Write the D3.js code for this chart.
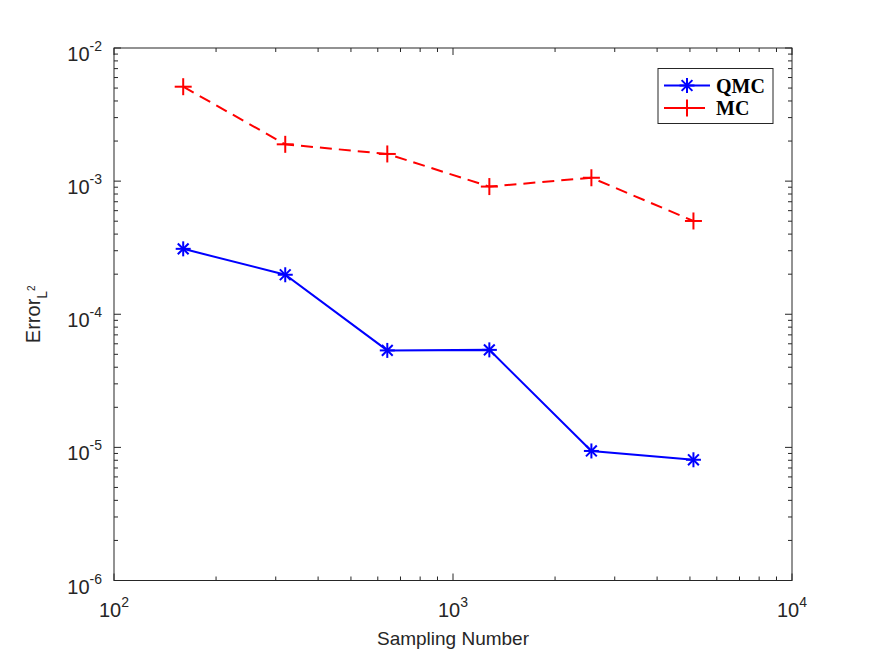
<!DOCTYPE html>
<html>
<head>
<meta charset="utf-8">
<script src="https://cdn.jsdelivr.net/npm/d3@7"></script>
<style>
  body { margin: 0; background: #fff; }
  text { font-family: "Liberation Sans", Arial, Helvetica, sans-serif; }
</style>
</head>
<body>
<script>
// Data
const samplingNumbers = [160, 320, 640, 1280, 2560, 5120];
const qmcError = [3.1e-4, 1.98e-4, 5.35e-5, 5.4e-5, 9.4e-6, 8.07e-6];
const mcError = [5.12e-3, 1.89e-3, 1.6e-3, 9.1e-4, 1.06e-3, 5.02e-4];
const xTickExps = [2, 3, 4];
const yTickExps = [-6, -5, -4, -3, -2];

const W = 875, H = 657;
const margin = {top: 48, right: 83, bottom: 76.5, left: 114};
const width = W - margin.left - margin.right;
const height = H - margin.top - margin.bottom;
const axisColor = "#262626";

const svg = d3.select("body").append("svg")
    .attr("width", W)
    .attr("height", H);

const g = svg.append("g")
    .attr("transform", "translate(" + margin.left + "," + margin.top + ")");

const x = d3.scaleLog().domain([1e2, 1e4]).range([0, width]);
const y = d3.scaleLog().domain([1e-6, 1e-2]).range([height, 0]);

// minor ticks: 2..9 in each decade
function minorTicks(lo, hi) {
    let out = [];
    for (let e = lo; e < hi; e++) {
        for (let k = 2; k <= 9; k++) out.push(k * Math.pow(10, e));
    }
    return out;
}
const xMinor = minorTicks(2, 4);
const yMinor = minorTicks(-6, -2);

// ticks (inward, on all four sides)
const majorLen = 7, minorLen = 4;
const ticks = g.append("g").attr("stroke", axisColor).attr("stroke-width", 1);

xTickExps.map(e => Math.pow(10, e)).forEach(v => {
    ticks.append("line").attr("x1", x(v)).attr("x2", x(v)).attr("y1", height).attr("y2", height - majorLen);
    ticks.append("line").attr("x1", x(v)).attr("x2", x(v)).attr("y1", 0).attr("y2", majorLen);
});
xMinor.forEach(v => {
    ticks.append("line").attr("x1", x(v)).attr("x2", x(v)).attr("y1", height).attr("y2", height - minorLen);
    ticks.append("line").attr("x1", x(v)).attr("x2", x(v)).attr("y1", 0).attr("y2", minorLen);
});
yTickExps.map(e => Math.pow(10, e)).forEach(v => {
    ticks.append("line").attr("y1", y(v)).attr("y2", y(v)).attr("x1", 0).attr("x2", majorLen);
    ticks.append("line").attr("y1", y(v)).attr("y2", y(v)).attr("x1", width).attr("x2", width - majorLen);
});
yMinor.forEach(v => {
    ticks.append("line").attr("y1", y(v)).attr("y2", y(v)).attr("x1", 0).attr("x2", minorLen);
    ticks.append("line").attr("y1", y(v)).attr("y2", y(v)).attr("x1", width).attr("x2", width - minorLen);
});

// box
g.append("rect")
    .attr("width", width)
    .attr("height", height)
    .attr("fill", "none")
    .attr("stroke", axisColor)
    .attr("stroke-width", 1);

// tick labels
const tickFont = 20, supFont = 14;
xTickExps.forEach(e => {
    const t = g.append("text")
        .attr("x", x(Math.pow(10, e)))
        .attr("y", height + 36)
        .attr("text-anchor", "middle")
        .attr("fill", axisColor)
        .style("font-size", tickFont + "px");
    t.append("tspan").text("10");
    t.append("tspan").attr("dy", -10).style("font-size", supFont + "px").text(String(e));
});
yTickExps.forEach(e => {
    const t = g.append("text")
        .attr("x", -12)
        .attr("y", y(Math.pow(10, e)) + 13)
        .attr("text-anchor", "end")
        .attr("fill", axisColor)
        .style("font-size", tickFont + "px");
    t.append("tspan").text("10");
    t.append("tspan").attr("dy", -10).style("font-size", supFont + "px").text(String(e));
});

// axis labels
g.append("text")
    .attr("x", width / 2)
    .attr("y", height + 64)
    .attr("text-anchor", "middle")
    .attr("fill", axisColor)
    .style("font-size", "19px")
    .text("Sampling Number");

const yl = g.append("text")
    .attr("transform", "translate(" + (-74) + "," + (height / 2) + ") rotate(-90)")
    .attr("text-anchor", "middle")
    .attr("fill", axisColor)
    .style("font-size", "20px");
yl.append("tspan").text("Error");
yl.append("tspan").attr("dy", 7).style("font-size", "14px").text("L");
yl.append("tspan").attr("dy", -12).style("font-size", "10px").text("2");

// series
const line = d3.line()
    .x(d => x(d[0]))
    .y(d => y(d[1]));

const series = [
    {name: "QMC", values: qmcError, color: "#0000ff", dash: null, marker: "star"},
    {name: "MC", values: mcError, color: "#ff0000", dash: "12,7", marker: "plus"}
];

function drawMarker(sel, type, cx, cy, color) {
    const m = sel.append("g").attr("transform", "translate(" + cx + "," + cy + ")")
        .attr("stroke", color).attr("stroke-width", 2).attr("fill", "none");
    if (type === "plus") {
        const r = 8.5;
        m.append("line").attr("x1", -r).attr("x2", r).attr("y1", 0).attr("y2", 0);
        m.append("line").attr("x1", 0).attr("x2", 0).attr("y1", -r).attr("y2", r);
    } else {
        const r = 7.5, d = r * 0.72;
        m.append("line").attr("x1", -r).attr("x2", r).attr("y1", 0).attr("y2", 0);
        m.append("line").attr("x1", 0).attr("x2", 0).attr("y1", -r).attr("y2", r);
        m.append("line").attr("x1", -d).attr("x2", d).attr("y1", -d).attr("y2", d);
        m.append("line").attr("x1", -d).attr("x2", d).attr("y1", d).attr("y2", -d);
    }
}

series.forEach(s => {
    const pts = samplingNumbers.map((n, i) => [n, s.values[i]]);
    g.append("path")
        .datum(pts)
        .attr("fill", "none")
        .attr("stroke", s.color)
        .attr("stroke-width", 2)
        .attr("stroke-dasharray", s.dash)
        .attr("d", line);
    pts.forEach(p => drawMarker(g, s.marker, x(p[0]), y(p[1]), s.color));
});

// legend
const lg = svg.append("g").attr("transform", "translate(658,68.5)");
lg.append("rect")
    .attr("width", 115)
    .attr("height", 55)
    .attr("fill", "#fff")
    .attr("stroke", axisColor)
    .attr("stroke-width", 1);
series.forEach((s, i) => {
    const cy = 17 + i * 22.5;
    lg.append("line")
        .attr("x1", 6).attr("x2", 6 + 46 - i * 5)
        .attr("y1", cy).attr("y2", cy)
        .attr("stroke", s.color)
        .attr("stroke-width", 2);
    drawMarker(lg, s.marker, 29, cy, s.color);
    lg.append("text")
        .attr("x", 58)
        .attr("y", cy + 7)
        .style("font-family", '"Liberation Serif", "Times New Roman", serif')
        .style("font-size", "20px")
        .style("font-weight", "bold")
        .attr("fill", "#000")
        .text(s.name);
});
</script>
</body>
</html>
